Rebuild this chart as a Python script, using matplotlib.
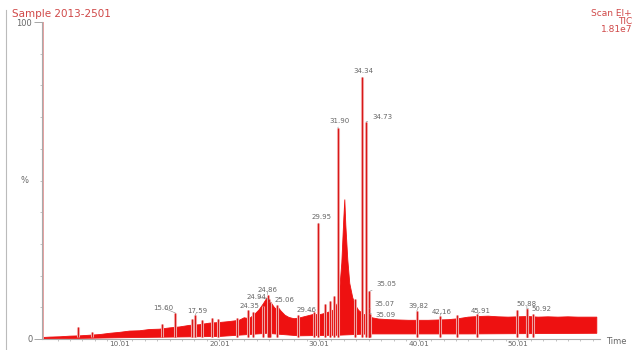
import numpy as np
import matplotlib
matplotlib.use("Agg")
import matplotlib.pyplot as plt
from matplotlib.lines import Line2D

# Total ion chromatogram (% of 1.81e7)
# noisy baseline band: upper edge
band_t = [2.4, 3, 4, 5, 6, 7, 8, 9, 10, 11, 12, 13, 14, 15, 16, 17, 18, 19, 20,
          21, 22, 22.5, 23, 23.5, 24, 24.4, 24.8, 25.0, 25.3, 25.6, 25.9, 26.2,
          26.6, 27, 27.5, 28, 28.5, 29, 29.5, 30, 30.5, 31, 31.5, 32.0, 32.3,
          32.5, 32.6, 32.7, 32.9, 33.1, 33.4, 33.7, 34.0, 34.5, 35, 35.5, 36,
          37, 38, 39, 40, 41, 42, 43, 44, 45, 46, 47, 48, 49, 50, 51, 52, 53,
          54, 55, 56, 57, 57.9]
band_top = [0.5, 0.6, 0.7, 0.9, 1.0, 1.2, 1.4, 1.8, 2.1, 2.5, 2.6, 3.0, 3.1,
            3.5, 3.8, 4.3, 4.5, 5.0, 5.2, 5.5, 5.9, 6.7, 6.4, 7.6, 9.2, 11.0,
            13.0, 12.4, 11.0, 9.6, 10.0, 8.8, 7.5, 6.8, 6.4, 6.6, 7.0, 7.4, 7.8,
            7.6, 8.0, 8.5, 9.2, 12.0, 24.0, 38.0, 44.0, 36.0, 25.0, 17.5, 13.0,
            10.5, 9.0, 7.8, 7.0, 6.6, 6.3, 6.1, 6.0, 5.9, 5.9, 5.9, 6.0, 6.1,
            6.4, 6.9, 7.1, 7.2, 7.0, 6.9, 7.0, 7.1, 6.9, 7.0, 6.9, 7.0, 6.9,
            6.9, 6.9]
# lower edge of the band
floor_t = [2.4, 10, 20, 24.8, 28, 32, 35, 45, 57.9]
floor_val = [0.0, 0.4, 0.8, 1.8, 1.0, 1.2, 1.6, 1.6, 1.8]

# labelled peaks
peak_times = [15.60, 17.59, 24.35, 24.86, 24.94, 25.06, 29.46, 29.95, 31.90,
              34.34, 34.73, 35.05, 35.07, 35.09, 39.82, 42.16, 45.91, 50.88, 50.92]
peak_heights = [8.2, 7.6, 10.5, 14.0, 12.6, 11.6, 8.6, 36.5, 66.5,
                82.5, 68.5, 15.0, 9.6, 8.0, 8.8, 7.4, 7.8, 9.4, 9.6]
peak_labels = ["15.60", "17.59", "24.35", "24.86", "24.94", "25.06", "29.46",
               "29.95", "31.90", "34.34", "34.73", "35.05", "35.07", "35.09",
               "39.82", "42.16", "45.91", "50.88", "50.92"]

# unlabelled spikes
spike_times = [5.8, 7.2, 14.2, 17.3, 18.3, 19.3, 19.9, 21.8, 22.9, 23.4,
               25.8, 27.9, 30.6, 31.1, 31.5, 33.6, 43.9, 49.9, 51.5]
spike_heights = [3.8, 2.2, 4.8, 6.4, 6.0, 6.6, 6.4, 6.6, 9.0, 8.5,
                 10.8, 7.6, 11.0, 12.0, 13.5, 12.5, 7.6, 9.2, 7.9]

solvent_time = 2.35

# label offsets from the peak top, in pixels (layout only)
label_offsets = [(-12, 5), (2, 4), (-13, 0), (0, 5), (-12, 2), (15, 2), (-7, 2),
                 (3, 6), (2, 7), (1, 6), (16, 5), (17, 7), (15, 5), (16, -1),
                 (2, 5), (2, 4), (3, 3), (0, 5), (14, 0)]

red = "#ee1111"
grey = "#666666"

fig = plt.figure(figsize=(6.36, 3.5), dpi=100)
ax = fig.add_axes([42 / 636, 11 / 350, 558 / 636, 317 / 350])

# band
ax.fill(np.r_[band_t, floor_t[::-1]], np.r_[band_top, floor_val[::-1]],
        color=red, lw=0.6, ec=red)

# spikes (pink halo + red core to mimic the blurry trace)
all_t = peak_times + spike_times
all_h = peak_heights + spike_heights
ax.vlines(all_t, 0.5, all_h, color="#f3a8a8", lw=2.2, zorder=2)
ax.vlines(all_t, 0.5, all_h, color="#d81818", lw=0.8, zorder=3)
ax.vlines(solvent_time, 0, 100, color="#e8a0a0", lw=1.4, zorder=2)

for t, h, lab, (dx, dy) in zip(peak_times, peak_heights, peak_labels, label_offsets):
    ax.annotate(lab, xy=(t, h), xytext=(dx, dy), textcoords="offset pixels",
                ha="center", va="center", fontsize=5, color=grey,
                arrowprops=dict(arrowstyle="-", color="#888888", lw=0.4,
                                shrinkA=1, shrinkB=0))

ax.set_xlim(2.2, 58.22)
ax.set_ylim(0, 100)
for s in ["top", "right"]:
    ax.spines[s].set_visible(False)
ax.spines["left"].set_color("#aaaaaa")
ax.spines["bottom"].set_color("#aaaaaa")
ax.spines["left"].set_linewidth(0.8)
ax.spines["bottom"].set_linewidth(0.8)

ax.set_xticks([10.01, 20.01, 30.01, 40.01, 50.01])
ax.set_xticklabels(["10.01", "20.01", "30.01", "40.01", "50.01"])
ax.set_xticks(np.arange(3.76, 58, 1.25), minor=True)
ax.set_yticks([0, 100])
ax.set_yticklabels(["0", "100"])
ax.set_yticks(np.arange(10, 100, 10), minor=True)
ax.tick_params(axis="both", which="major", labelsize=6, colors="#999999",
               labelcolor=grey, length=3, width=0.6, pad=1)
ax.tick_params(axis="x", which="major", labelsize=5.2, length=1.5, pad=0)
ax.tick_params(axis="both", which="minor", colors="#aaaaaa", length=1.5, width=0.5)
ax.tick_params(axis="y", which="major", length=6)

ax.text(-0.025, 0.5, "%", transform=ax.transAxes, fontsize=6, color=grey,
        ha="right", va="center")
fig.text(606 / 636, 1 - 341 / 350, "Time", fontsize=6, color=grey,
         ha="left", va="center")

# header
fig.text(12 / 636, 1 - 14 / 350, "Sample 2013-2501", fontsize=7.5,
         color="#d04848", ha="left", va="center")
fig.text(632 / 636, 1 - 14 / 350, "Scan EI+", fontsize=6.5, color="#d04848",
         ha="right", va="center")
fig.text(632 / 636, 1 - 22 / 350, "TIC", fontsize=6.5, color="#d04848",
         ha="right", va="center")
fig.text(632 / 636, 1 - 30 / 350, "1.81e7", fontsize=6.5, color="#d04848",
         ha="right", va="center")

# left frame edge of the screenshot
fig.add_artist(Line2D([6 / 636, 6 / 636], [0, 1 - 10 / 350],
                      color="#bbbbbb", lw=0.8))

fig.savefig("out.png", dpi=100)
